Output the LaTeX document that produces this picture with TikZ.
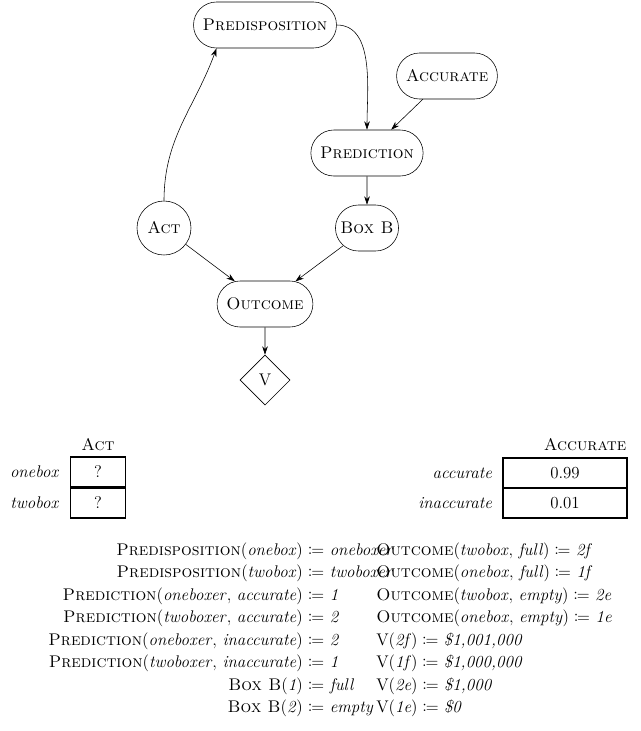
\documentclass[tikz,border=0pt]{standalone}
\usepackage{tikz}
\usetikzlibrary{positioning,
        shapes,
        arrows.meta}
\usepackage{amsthm,amssymb,amsmath,mathtools}
\usepackage{xcolor}

\begin{document}
\begin{tikzpicture}[x=0.025cm,y=-0.025cm,font=\large,
        var/.style={draw,rounded rectangle,minimum height=1.15cm,inner xsep=6pt},
        edge/.style={-{Stealth[length=6pt,width=4pt]}},
        cell/.style={draw,thick,minimum height=0.75cm,inner sep=0pt}]
        \useasboundingbox (0,0) rectangle (640,731);
        \node [var] (predisp) at (265,25) {\textsc{Predisposition}};
        \node [var] (accurate) at (447,76) {\textsc{Accurate}};
        \node [var] (prediction) at (367,153) {\textsc{Prediction}};
        \node [circle,draw,minimum width=1.35cm,inner sep=0pt] (act) at (164,228) {\textsc{Act}};
        \node [var,inner xsep=3pt] (boxb) at (367,228) {\textsc{Box B}};
        \node [var] (outcome) at (265,304) {\textsc{Outcome}};
        \node [diamond,draw,minimum width=1.25cm,minimum height=1.25cm,inner sep=0pt] (v) at (265,380) {V};
        
        \draw [edge] (act.north) to [out=90,in=250] (predisp.south west);
        \draw [edge] (predisp.east) to [out=0,in=90,looseness=0.9] (prediction.north);
        \draw [edge] (accurate) -- (prediction);
        \draw [edge] (prediction) -- (boxb);
        \draw [edge] (act) -- (outcome);
        \draw [edge] (boxb) -- (outcome);
        \draw [edge] (outcome) -- (v);
        
        % probability tables
        \node [cell,minimum width=1.375cm] (act1) at (98,472) {?};
        \node [cell,minimum width=1.375cm] (act2) at (98,503) {?};
        \node (acthead) at (98,445) {\textsc{Act}};
        \node [anchor=east] (onebox) at (64,472) {\textit{onebox}};
        \node [anchor=east] (twobox) at (64,503) {\textit{twobox}};
        \node [cell,minimum width=3.1cm] (acc1) at (565,473) {0.99};
        \node [cell,minimum width=3.1cm] (acc2) at (565,503) {0.01};
        \node (acchead) at (585,445) {\textsc{Accurate}};
        \node [anchor=east] (accl) at (497,473) {\textit{accurate}};
        \node [anchor=east] (inaccl) at (497,503) {\textit{inaccurate}};
        
        % definitions
        \foreach \lhs/\rhs [count=\i] in {
                {\textsc{Predisposition}$($\textit{onebox}$)$}/{\textit{oneboxer}},
                {\textsc{Predisposition}$($\textit{twobox}$)$}/{\textit{twoboxer}},
                {\textsc{Prediction}$($\textit{oneboxer}$,$ \textit{accurate}$)$}/{\textit{1}},
                {\textsc{Prediction}$($\textit{twoboxer}$,$ \textit{accurate}$)$}/{\textit{2}},
                {\textsc{Prediction}$($\textit{oneboxer}$,$ \textit{inaccurate}$)$}/{\textit{2}},
                {\textsc{Prediction}$($\textit{twoboxer}$,$ \textit{inaccurate}$)$}/{\textit{1}},
                {\textsc{Box B}$($\textit{1}$)$}/{\textit{full}},
                {\textsc{Box B}$($\textit{2}$)$}/{\textit{empty}}}{
            \node [anchor=base east,inner sep=0pt] (lhs\i) at (303,{555+22.5*(\i-1)}) {\lhs};
            \node [anchor=base west,inner sep=0pt] (rhs\i) at (lhs\i.base east) {$\;\coloneqq$ \rhs};
        }
        \foreach \defn [count=\i] in {
                {\textsc{Outcome}$($\textit{twobox}$,$ \textit{full}$)\coloneqq$ \textit{2f}},
                {\textsc{Outcome}$($\textit{onebox}$,$ \textit{full}$)\coloneqq$ \textit{1f}},
                {\textsc{Outcome}$($\textit{twobox}$,$ \textit{empty}$)\coloneqq$ \textit{2e}},
                {\textsc{Outcome}$($\textit{onebox}$,$ \textit{empty}$)\coloneqq$ \textit{1e}},
                {V$($\textit{2f}$)\coloneqq$ \textit{\$1,001,000}},
                {V$($\textit{1f}$)\coloneqq$ \textit{\$1,000,000}},
                {V$($\textit{2e}$)\coloneqq$ \textit{\$1,000}},
                {V$($\textit{1e}$)\coloneqq$ \textit{\$0}}}{
            \node [anchor=base west,inner sep=0pt] (def\i) at (376,{555+22.5*(\i-1)}) {\defn};
        }
\end{tikzpicture}
\end{document}
